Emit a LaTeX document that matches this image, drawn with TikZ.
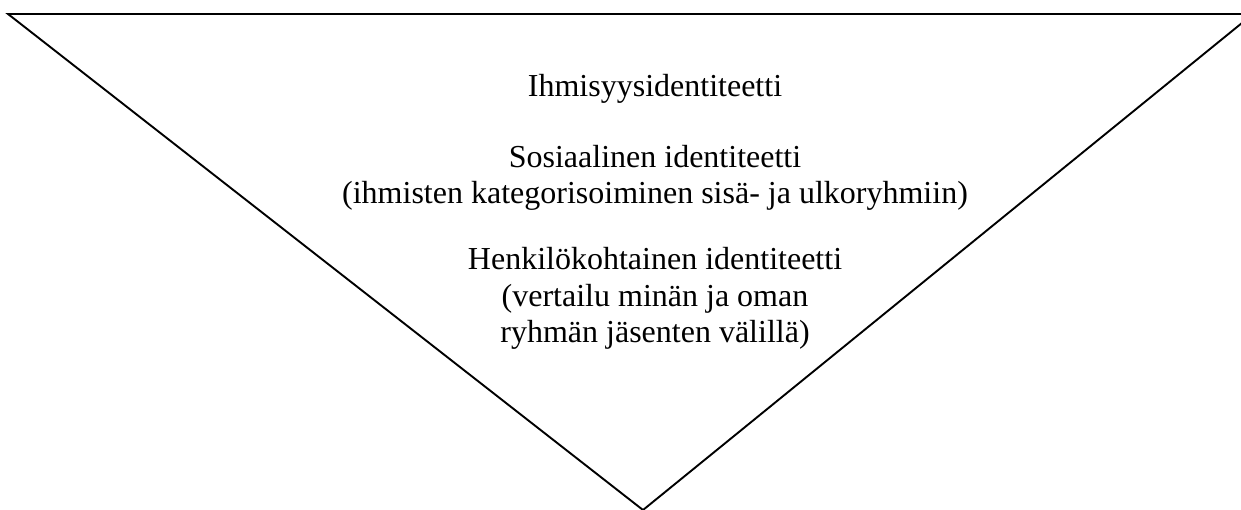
\documentclass[tikz,border=0pt]{standalone}
\usepackage{fontspec}
\setmainfont{Liberation Serif}
\begin{document}
\begin{tikzpicture}[x=1pt,y=-1pt,
  lbl/.style={anchor=base,inner sep=0pt,font=\fontsize{32}{36.5}\selectfont},
  edge/.style={line width=1.9pt,line join=miter}]
\useasboundingbox (0,0) rectangle (1241,510);
\fill[white] (0,0) rectangle (1241,510);
\coordinate (tl) at (8,14);
\coordinate (tr) at (1252,14);
\coordinate (ap) at (643,510);
\coordinate (rt) at (1253,14);
\draw[edge] (tr) -- (tl) -- (ap) -- (rt);
\node[lbl] (l1) at (655,97) {Ihmisyysidentiteetti};
\node[lbl] (l2) at (655,168) {Sosiaalinen identiteetti};
\node[lbl] (l3) at (655,204) {(ihmisten kategorisoiminen sisä- ja ulkoryhmiin)};
\node[lbl] (l4) at (655,270) {Henkilökohtainen identiteetti};
\node[lbl] (l5) at (655,306) {(vertailu minän ja oman};
\node[lbl] (l6) at (655,342) {ryhmän jäsenten välillä)};
\end{tikzpicture}
\end{document}
